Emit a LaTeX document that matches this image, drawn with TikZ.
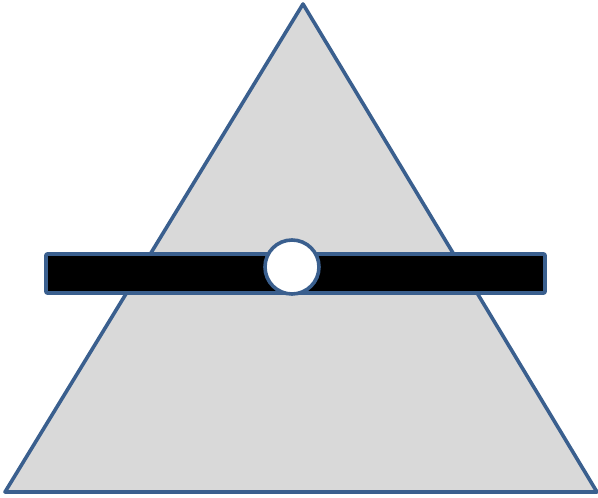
\documentclass[tikz,border=0pt]{standalone}
\usepackage{xcolor}
\definecolor{LeverEdge}{HTML}{3A5F8E}
\definecolor{LeverGrey}{HTML}{D9D9D9}
\usepackage{tikz}
\usetikzlibrary{calc}

\begin{document}
\begin{tikzpicture}[x=1pt, y=1pt, line join=round,
  edge/.style={draw=LeverEdge, line width=3.6pt}]
\useasboundingbox (0,0) rectangle (598,498);

% fulcrum triangle
\coordinate (apex)  at (303,494);
\coordinate (left)  at (5,6);
\coordinate (right) at (597,6);
\draw[edge, fill=LeverGrey] (left) -- (apex) -- (right) -- cycle;

% the beam
\draw[edge, fill=black, rounded corners=1pt] (46,205) rectangle (545,244);

% pivot
\draw[edge, fill=white] (292,231) circle (27);
\end{tikzpicture}
\end{document}
